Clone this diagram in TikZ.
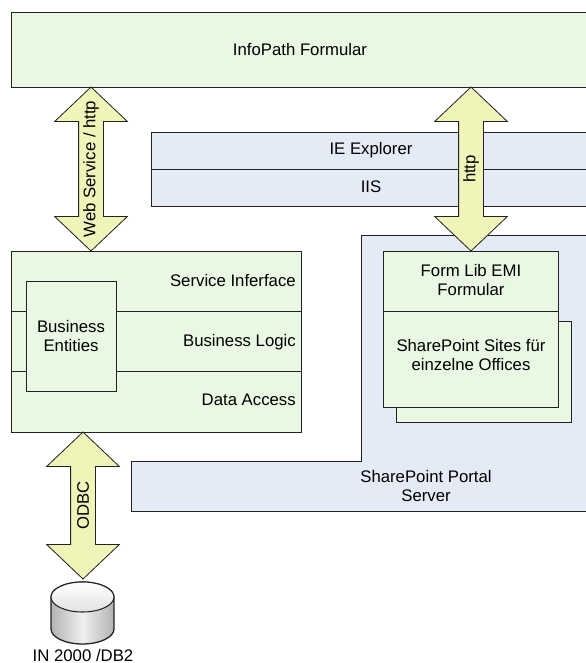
\documentclass[tikz,border=0pt]{standalone}
\usepackage{fontspec}
\setmainfont{Liberation Sans}
\usetikzlibrary{shapes,shapes.geometric,shapes.arrows,positioning}
\definecolor{layergreen}{HTML}{E9F8E3}
\definecolor{layerblue}{HTML}{E4EBF6}
\definecolor{arrowyellow}{HTML}{F0F4B8}
\definecolor{linegray}{HTML}{222222}
\tikzset{
    pane/.style={draw=linegray, line width=0.7pt, fill=#1},
    rowline/.style={draw=linegray, line width=0.7pt},
    bothways/.style={double arrow, draw=linegray, line width=0.7pt, fill=arrowyellow,
        rotate=90, inner sep=0pt, text height=24*0.03cm, text depth=0pt,
        minimum width=72*0.03cm, minimum height=#1*0.03cm,
        double arrow head extend=24*0.03cm, double arrow tip angle=93},
    lbl/.style={align=center, font=\fontsize{14.3}{17}\selectfont, text=black, inner sep=0pt}
}
\begin{document}
\begin{tikzpicture}[x=0.03cm,y=-0.03cm]
    \useasboundingbox (0,0) rectangle (586,663);
    % panes
    \draw[pane=layergreen] (11,12) rectangle (586,87);
    \draw[pane=layerblue] (151,132) rectangle (586,206);
    \draw[rowline] (151,169) -- (586,169);
    \draw[pane=layerblue] (586,235) -- (361,235) -- (361,461) -- (131,461) -- (131,511) -- (586,511);
    \draw[pane=layergreen] (396,321) rectangle (571,422);
    \draw[pane=layergreen] (383,251) rectangle (558,407);
    \draw[rowline] (383,311) -- (558,311);
    \draw[pane=layergreen] (11,251) rectangle (301,432);
    \draw[rowline] (11,311) -- (301,311);
    \draw[rowline] (11,371) -- (301,371);
    \draw[pane=layergreen] (26,281) rectangle (116,391);
    % text using foreach loop
    \foreach \x/\y/\name/\label in {
        300/50/infopath/InfoPath Formular,
        371/150/explorer/IE Explorer,
        371/187/iis/IIS,
        471/280/formlib/{Form Lib EMI\\Formular},
        471/355/sites/{SharePoint Sites für\\einzelne Offices},
        426/486/portal/{SharePoint Portal\\Server},
        71/336/entities/{Business\\Entities},
        83/655.5/dbtext/{IN 2000 /DB2}%
    } {
        \node[lbl] (\name) at (\x,\y) {\label};
    }
    \foreach \y/\name/\label in {
        281/service/Service Inferface,
        342/logic/Business Logic,
        400/access/Data Access%
    } {
        \node[lbl, anchor=east] (\name) at (296,\y) {\label};
    }
    % double arrows
    \foreach \x/\y/\len/\name/\label in {
        91/169/164/webarrow/{Web Service / http},
        471/169/164/httparrow/http,
        83/505.5/147/odbcarrow/ODBC%
    } {
        \node[bothways=\len] (\name) at (\x,\y) {};
        \node[lbl, rotate=90] at (\name.center) {\label};
    }
    % database
    \draw[draw=linegray, line width=1.1pt, left color=gray!60, right color=gray!60, middle color=gray!12]
        (51,597) -- (51,629) arc[x radius=31.5*0.03cm, y radius=15*0.03cm, start angle=180, end angle=360]
        -- (114,597) arc[x radius=31.5*0.03cm, y radius=15*0.03cm, start angle=0, end angle=180] -- cycle;
    \draw[draw=linegray, line width=0.9pt, top color=white, bottom color=gray!22]
        (82.5,597) ellipse[x radius=31.5*0.03cm, y radius=15*0.03cm];
\end{tikzpicture}
\end{document}
